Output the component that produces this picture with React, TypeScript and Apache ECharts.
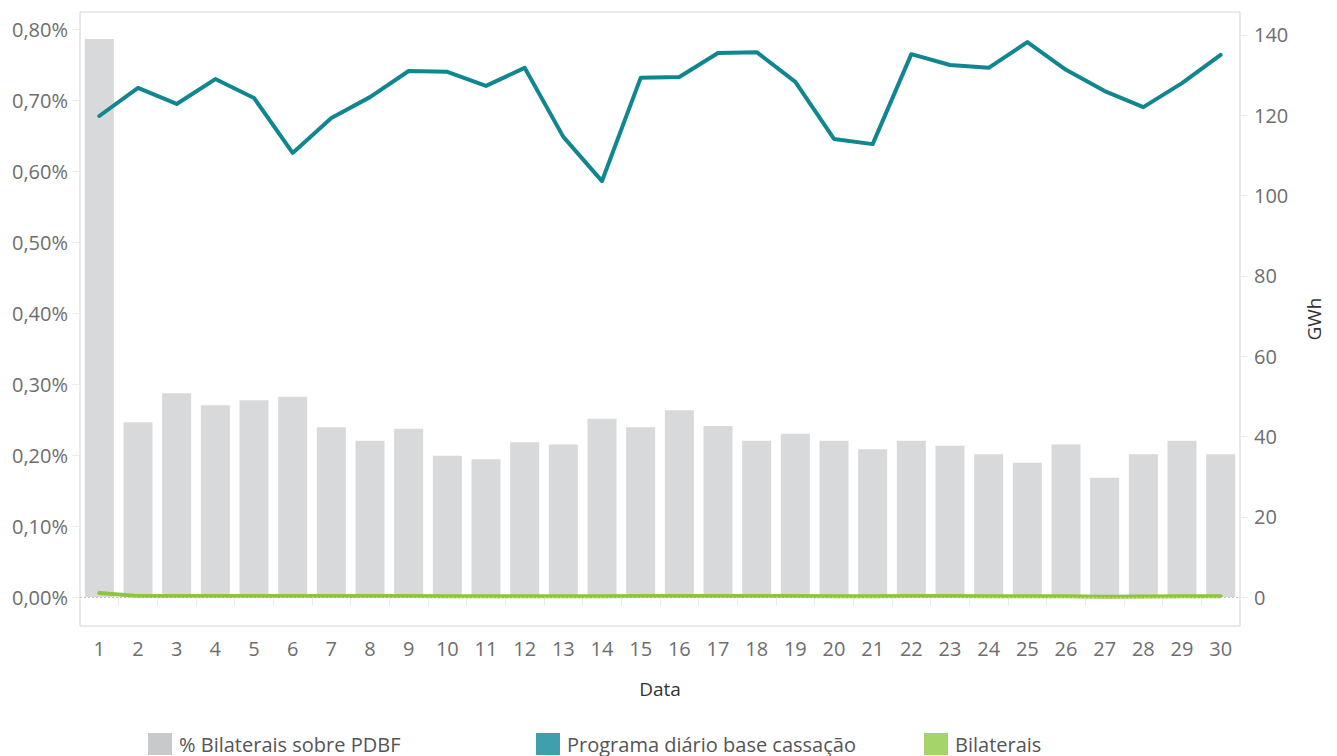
import React, { useEffect, useRef } from "react";
import * as echarts from "echarts";

const days = Array.from({ length: 30 }, (_, i) => String(i + 1));

// % Bilaterais sobre PDBF (in percent units)
const pctBilaterais = [
  0.786, 0.246, 0.287, 0.270, 0.277, 0.282, 0.239, 0.220, 0.237, 0.199,
  0.194, 0.218, 0.215, 0.251, 0.239, 0.263, 0.241, 0.220, 0.230, 0.220,
  0.208, 0.220, 0.213, 0.201, 0.189, 0.215, 0.168, 0.201, 0.220, 0.201,
];

// Programa diário base cassação (GWh)
const programaDiario = [
  119.8, 126.8, 122.8, 129.0, 124.3, 110.6, 119.3, 124.5, 131.0, 130.8,
  127.3, 131.8, 114.6, 103.6, 129.3, 129.5, 135.5, 135.7, 128.3, 114.1,
  112.8, 135.2, 132.5, 131.8, 138.2, 131.3, 126.0, 122.0, 128.0, 135.0,
];

// Bilaterais (GWh)
const bilaterais = [
  1.0, 0.3, 0.3, 0.3, 0.3, 0.25, 0.25, 0.25, 0.25, 0.2,
  0.2, 0.2, 0.2, 0.2, 0.25, 0.25, 0.25, 0.25, 0.25, 0.2,
  0.2, 0.25, 0.25, 0.2, 0.2, 0.2, 0.1, 0.15, 0.2, 0.2,
];

const leftTicks = [0, 0.1, 0.2, 0.3, 0.4, 0.5, 0.6, 0.7, 0.8];
const rightTicks = [0, 20, 40, 60, 80, 100, 120, 140];

const FONT = "'Open Sans', 'Noto Sans', sans-serif";

export default function App() {
  const ref = useRef<HTMLDivElement>(null);
  useEffect(() => {
    if (!ref.current) return;
    const chart = echarts.init(ref.current, undefined, { renderer: "svg" });
    const labelStyle = { color: "#6e6e6e", fontSize: 20, fontFamily: FONT };
    const legendBase = {
      top: 733,
      padding: 0,
      itemWidth: 24,
      itemHeight: 22,
      icon: "rect",
      textStyle: { color: "#555", fontSize: 20, lineHeight: 20, fontFamily: FONT, padding: [0, 0, 0, 2] },
      itemGap: 0,
    };
    chart.setOption({
      animation: false,
      grid: {
        left: 80,
        right: 97,
        top: 12,
        height: 614,
        show: true,
        borderColor: "#d4d4d4",
        borderWidth: 1,
        containLabel: false,
      },
      legend: [
        { ...legendBase, left: 148, data: [{ name: "% Bilaterais sobre PDBF", itemStyle: { color: "#c8c9cb" } }] },
        { ...legendBase, left: 536, data: [{ name: "Programa diário base cassação", itemStyle: { color: "#3fa0ab" } }] },
        { ...legendBase, left: 924, data: [{ name: "Bilaterais", itemStyle: { color: "#a6d46b" } }] },
      ],
      xAxis: {
        type: "category",
        data: days,
        name: "Data",
        nameLocation: "middle",
        nameGap: 53,
        nameTextStyle: { color: "#333", fontSize: 19, fontFamily: FONT },
        axisLine: { show: false },
        axisTick: { show: true, length: 9, lineStyle: { color: "#ebebeb" } },
        axisLabel: { ...labelStyle, margin: 12 },
        splitLine: { show: false },
      },
      yAxis: [
        {
          type: "value",
          min: -0.0408,
          max: 0.824,
          position: "left",
          axisLine: { show: false },
          axisTick: { show: true, length: 8, lineStyle: { color: "#ebebeb" }, customValues: leftTicks },
          axisLabel: {
            ...labelStyle,
            margin: 12,
            customValues: leftTicks,
            formatter: (v: number) => v.toFixed(2).replace(".", ",") + "%",
          },
          splitLine: { show: false },
        },
        {
          type: "value",
          min: -7.2,
          max: 145.7,
          position: "right",
          name: "GWh",
          nameLocation: "middle",
          nameGap: 64,
          nameTextStyle: { color: "#333", fontSize: 19, fontFamily: FONT },
          axisLine: { show: false },
          axisTick: { show: true, length: 8, lineStyle: { color: "#ebebeb" }, customValues: rightTicks },
          axisLabel: { ...labelStyle, margin: 14, customValues: rightTicks },
          splitLine: { show: false },
        },
      ],
      series: [
        {
          name: "% Bilaterais sobre PDBF",
          type: "bar",
          yAxisIndex: 0,
          data: pctBilaterais,
          barWidth: 29,
          itemStyle: { color: "#d8d9db" },
          markLine: {
            silent: true,
            symbol: "none",
            label: { show: false },
            lineStyle: { color: "#c4c4c4", type: [2, 2], width: 1 },
            data: [{ yAxis: 0 }],
          },
        },
        {
          name: "Programa diário base cassação",
          type: "line",
          yAxisIndex: 1,
          data: programaDiario,
          symbol: "none",
          lineStyle: { color: "#0f8690", width: 4, cap: "round", join: "round" },
          itemStyle: { color: "#0f8690" },
        },
        {
          name: "Bilaterais",
          type: "line",
          yAxisIndex: 1,
          data: bilaterais,
          symbol: "none",
          lineStyle: { color: "#8cc63f", width: 4, cap: "round", join: "round" },
          itemStyle: { color: "#8cc63f" },
        },
      ],
    });
    return () => chart.dispose();
  }, []);
  return (
    <div
      ref={ref}
      style={{ position: "absolute", left: 0, top: 0, width: 1337, height: 756, overflow: "hidden" }}
    />
  );
}
